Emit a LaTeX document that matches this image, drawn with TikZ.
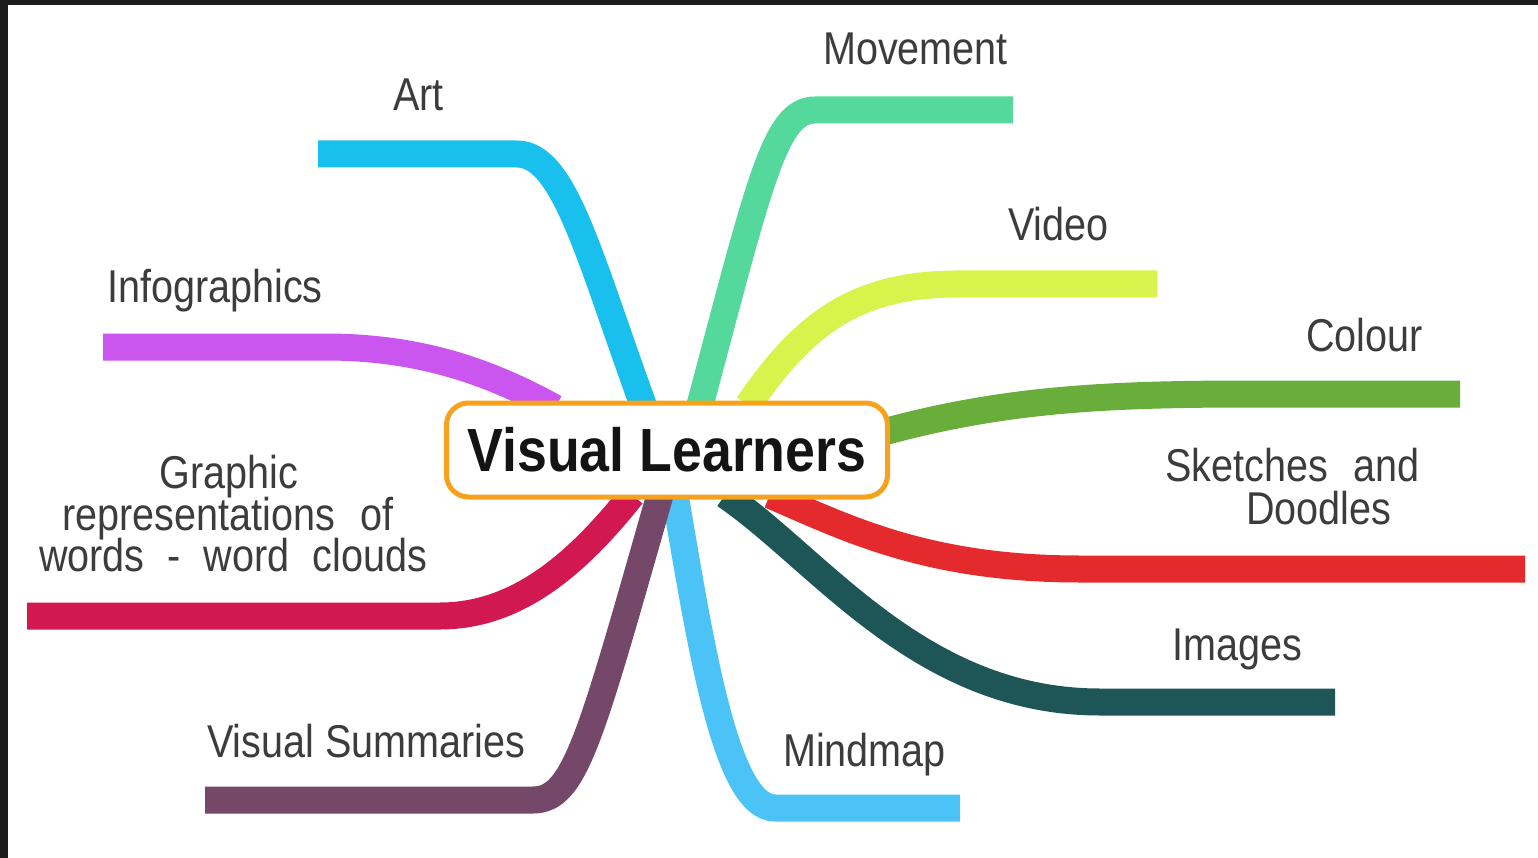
\documentclass[tikz,border=0pt]{standalone}
\usepackage{fontspec}
\newfontfamily\labfont[FakeStretch=0.86]{Liberation Sans}
\newfontfamily\titlefont[FakeStretch=0.88]{Liberation Sans}
\definecolor{cArt}{HTML}{19C0EE}
\definecolor{cMov}{HTML}{55D89B}
\definecolor{cVid}{HTML}{D8F34C}
\definecolor{cCol}{HTML}{69AD3B}
\definecolor{cSke}{HTML}{E42A2C}
\definecolor{cImg}{HTML}{1E5557}
\definecolor{cMind}{HTML}{4CC3F6}
\definecolor{cVS}{HTML}{754769}
\definecolor{cGr}{HTML}{D11850}
\definecolor{cInf}{HTML}{CB55EF}
\definecolor{cOrange}{HTML}{F6A21C}
\definecolor{cText}{HTML}{3C3C3C}
\definecolor{cFrame}{HTML}{1C1C1C}
\tikzset{
  branch/.style={line width=27pt, line cap=butt},
  lab/.style={inner sep=0pt, text=cText, font=\labfont\fontsize{46}{50}\selectfont},
  centre/.style={draw=cOrange, line width=5pt, fill=white, rounded corners=22pt,
    minimum width=441pt, minimum height=94pt, inner sep=0pt,
    font=\titlefont\bfseries\fontsize{61}{64}\selectfont, text=black!92}
}
\begin{document}
\begin{tikzpicture}[x=1pt,y=-1pt]
\useasboundingbox (0,0) rectangle (1538,858);
\fill[white] (0,0) rectangle (1538,858);
\fill[cFrame] (0,0) rectangle (8,858);
\fill[cFrame] (0,0) rectangle (1538,5);

% start points (under the central node)
\coordinate (sArt) at (645,410);
\coordinate (sMov) at (700,405);
\coordinate (sVid) at (748,405);
\coordinate (sCol) at (880,433);
\coordinate (sSke) at (770,495);
\coordinate (sImg) at (725,495);
\coordinate (sMind) at (675,495);
\coordinate (sVS) at (660,495);
\coordinate (sGr) at (632,495);
\coordinate (sInf) at (555,408);
% free ends
\coordinate (eArt) at (318,154);
\coordinate (eMov) at (1013,110);
\coordinate (eVid) at (1157,284);
\coordinate (eCol) at (1460,394);
\coordinate (eSke) at (1525,569);
\coordinate (eImg) at (1335,702);
\coordinate (eMind) at (960,808);
\coordinate (eVS) at (205,800);
\coordinate (eGr) at (27,616);
\coordinate (eInf) at (103,347);

\draw[branch, cArt] (sArt) .. controls (590,260) and (565,154) .. (517,154) -- (eArt);
\draw[branch, cMov] (sMov) .. controls (760,180) and (775,110) .. (815,110) -- (eMov);
\draw[branch, cVid] (sVid) .. controls (800,330) and (850,284) .. (957,284) -- (eVid);
\draw[branch, cCol] (sCol) .. controls (1000,400) and (1100,394) .. (1250,394) -- (eCol);
\draw[branch, cSke] (sSke) .. controls (850,530) and (930,569) .. (1080,569) -- (eSke);
\draw[branch, cImg] (sImg) .. controls (820,560) and (920,702) .. (1100,702) -- (eImg);
\draw[branch, cMind] (sMind) .. controls (700,640) and (725,808) .. (775,808) -- (eMind);
\draw[branch, cVS] (sVS) .. controls (590,740) and (575,800) .. (533,800) -- (eVS);
\draw[branch, cGr] (sGr) .. controls (580,560) and (520,616) .. (440,616) -- (eGr);
\draw[branch, cInf] (sInf) .. controls (490,372) and (420,347) .. (325,347) -- (eInf);

\node[centre] (vl) at (667,450) {Visual Learners};

\node[lab, anchor=base west] (lArt) at (393,111) {Art};
\node[lab, anchor=base west] (lMov) at (823,65) {Movement};
\node[lab, anchor=base west] (lVid) at (1008,241) {Video};
\node[lab, anchor=base west] (lInf) at (107,303) {Infographics};
\node[lab, anchor=base west] (lCol) at (1306,352) {Colour};
\node[lab, anchor=base west] (lSk1) at (1165,481) {Sketches\hskip 26pt and};
\node[lab, anchor=base west] (lSk2) at (1246,524) {Doodles};
\node[lab, anchor=base west] (lImg) at (1172,660) {Images};
\node[lab, anchor=base west] (lMind) at (783,766) {Mindmap};
\node[lab, anchor=base west] (lVS) at (207,757) {Visual Summaries};
\node[lab, anchor=base] (lG1) at (229,488) {Graphic};
\node[lab, anchor=base] (lG2) at (228,530) {representations\hskip 25pt of};
\node[lab, anchor=base] (lG3) at (233,571) {words\hskip 23pt -\hskip 23pt word\hskip 23pt clouds};
\end{tikzpicture}
\end{document}
